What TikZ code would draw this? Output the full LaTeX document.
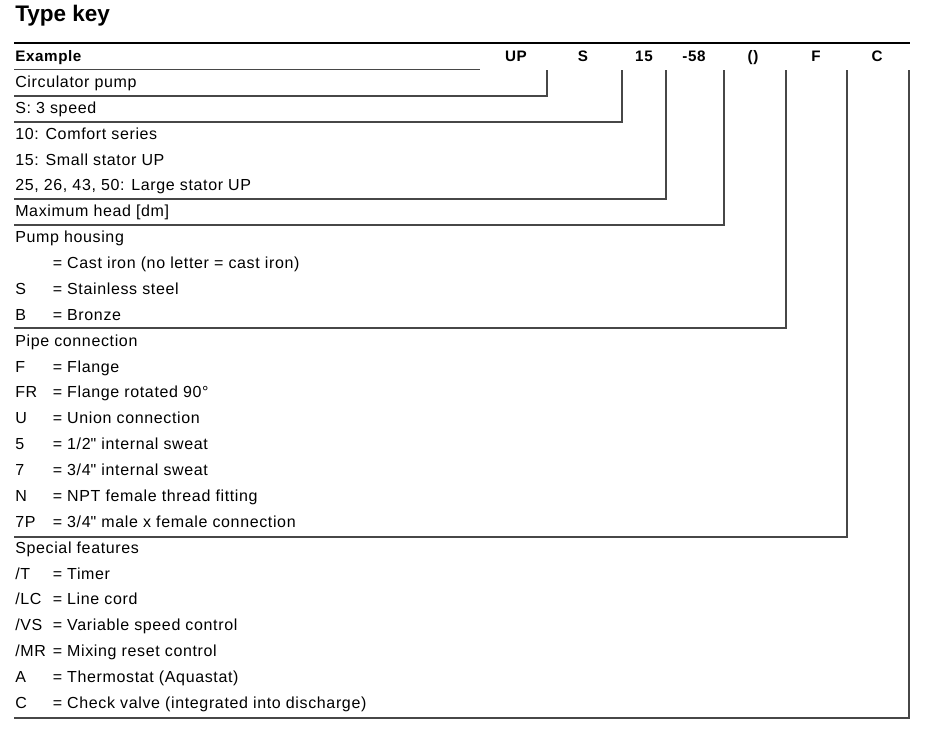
\documentclass[tikz,border=0pt]{standalone}
\usepackage{fontspec}
\setmainfont{Liberation Sans}[LetterSpace=4]
\newfontfamily\titlefont{Liberation Sans}
\usetikzlibrary{positioning}

\begin{document}
\begin{tikzpicture}[x=0.75pt, y=-0.75pt,
    txt/.style={anchor=base west, inner sep=0pt, font=\fontsize{12}{14}\selectfont},
    head/.style={anchor=base, inner sep=0pt, font=\fontsize{11.4}{14}\selectfont\bfseries},
    keyline/.style={draw=black!72, line width=0.8pt},
    topline/.style={draw=black, line width=1.9pt}]
    \useasboundingbox (0,0) rectangle (933,736);

    \node[anchor=base west, inner sep=0pt, font=\titlefont\fontsize{16.9}{20}\selectfont\bfseries] (title) at (15,21) {Type key};

    % header row
    \node[txt, font=\fontsize{11.4}{14}\selectfont\bfseries] (r0) at (15,61.5) {Example};
    \node[head] (h1) at (516,61.5) {UP};
    \node[head] (h2) at (583,61.5) {S};
    \node[head] (h3) at (644,61.5) {15};
    \node[head] (h4) at (694,61.5) {-58};
    \node[head] (h5) at (753,61.5) {()};
    \node[head] (h6) at (816,61.5) {F};
    \node[head] (h7) at (877,61.5) {C};

    % rows
    \coordinate (eq) at (52.5,0);
    \node[txt] (r1) at ([yshift=-19.41pt]r0.base west) {Circulator pump};
    \node[txt] (r2) at ([yshift=-19.41pt]r1.base west) {S: 3 speed};
    \node[txt] (r3) at ([yshift=-19.41pt]r2.base west) {10: Comfort series};
    \node[txt] (r4) at ([yshift=-19.41pt]r3.base west) {15: Small stator UP};
    \node[txt] (r5) at ([yshift=-19.41pt]r4.base west) {25, 26, 43, 50: Large stator UP};
    \node[txt] (r6) at ([yshift=-19.41pt]r5.base west) {Maximum head [dm]};
    \node[txt] (r7) at ([yshift=-19.41pt]r6.base west) {Pump housing};
    \node[txt] (r8) at ([yshift=-19.41pt]r7.base west) {};
    \node[txt] (d8) at (r8.base west -| eq) {= Cast iron (no letter = cast iron)};
    \node[txt] (r9) at ([yshift=-19.41pt]r8.base west) {S};
    \node[txt] (d9) at (r9.base west -| eq) {= Stainless steel};
    \node[txt] (r10) at ([yshift=-19.41pt]r9.base west) {B};
    \node[txt] (d10) at (r10.base west -| eq) {= Bronze};
    \node[txt] (r11) at ([yshift=-19.41pt]r10.base west) {Pipe connection};
    \node[txt] (r12) at ([yshift=-19.41pt]r11.base west) {F};
    \node[txt] (d12) at (r12.base west -| eq) {= Flange};
    \node[txt] (r13) at ([yshift=-19.41pt]r12.base west) {FR};
    \node[txt] (d13) at (r13.base west -| eq) {= Flange rotated 90°};
    \node[txt] (r14) at ([yshift=-19.41pt]r13.base west) {U};
    \node[txt] (d14) at (r14.base west -| eq) {= Union connection};
    \node[txt] (r15) at ([yshift=-19.41pt]r14.base west) {5};
    \node[txt] (d15) at (r15.base west -| eq) {= 1/2\textquotedbl{} internal sweat};
    \node[txt] (r16) at ([yshift=-19.41pt]r15.base west) {7};
    \node[txt] (d16) at (r16.base west -| eq) {= 3/4\textquotedbl{} internal sweat};
    \node[txt] (r17) at ([yshift=-19.41pt]r16.base west) {N};
    \node[txt] (d17) at (r17.base west -| eq) {= NPT female thread fitting};
    \node[txt] (r18) at ([yshift=-19.41pt]r17.base west) {7P};
    \node[txt] (d18) at (r18.base west -| eq) {= 3/4\textquotedbl{} male x female connection};
    \node[txt] (r19) at ([yshift=-19.41pt]r18.base west) {Special features};
    \node[txt] (r20) at ([yshift=-19.41pt]r19.base west) {/T};
    \node[txt] (d20) at (r20.base west -| eq) {= Timer};
    \node[txt] (r21) at ([yshift=-19.41pt]r20.base west) {/LC};
    \node[txt] (d21) at (r21.base west -| eq) {= Line cord};
    \node[txt] (r22) at ([yshift=-19.41pt]r21.base west) {/VS};
    \node[txt] (d22) at (r22.base west -| eq) {= Variable speed control};
    \node[txt] (r23) at ([yshift=-19.41pt]r22.base west) {/MR};
    \node[txt] (d23) at (r23.base west -| eq) {= Mixing reset control};
    \node[txt] (r24) at ([yshift=-19.41pt]r23.base west) {A};
    \node[txt] (d24) at (r24.base west -| eq) {= Thermostat (Aquastat)};
    \node[txt] (r25) at ([yshift=-19.41pt]r24.base west) {C};
    \node[txt] (d25) at (r25.base west -| eq) {= Check valve (integrated into discharge)};

    % line ends
    \coordinate (a) at (14,43);
    \coordinate (b) at (910,43);
    \coordinate (e1) at (14,69.5);
    \coordinate (e2) at (480,69.5);
    \coordinate (t1) at (547,70);
    \coordinate (t2) at (622,70);
    \coordinate (t3) at (666,70);
    \coordinate (t4) at (724,70);
    \coordinate (t5) at (786,70);
    \coordinate (t6) at (847,70);
    \coordinate (t7) at (909,70);
    \coordinate (l1) at (14,96);
    \coordinate (l2) at (14,122);
    \coordinate (l3) at (14,199);
    \coordinate (l4) at (14,225);
    \coordinate (l5) at (14,328);
    \coordinate (l6) at (14,537);
    \coordinate (l7) at (14,718);

    \draw[topline] (a) -- (b);
    \draw[keyline] (e1) -- (e2);
    \draw[keyline] (l1) -| (t1);
    \draw[keyline] (l2) -| (t2);
    \draw[keyline] (l3) -| (t3);
    \draw[keyline] (l4) -| (t4);
    \draw[keyline] (l5) -| (t5);
    \draw[keyline] (l6) -| (t6);
    \draw[keyline] (l7) -| (t7);
\end{tikzpicture}
\end{document}
